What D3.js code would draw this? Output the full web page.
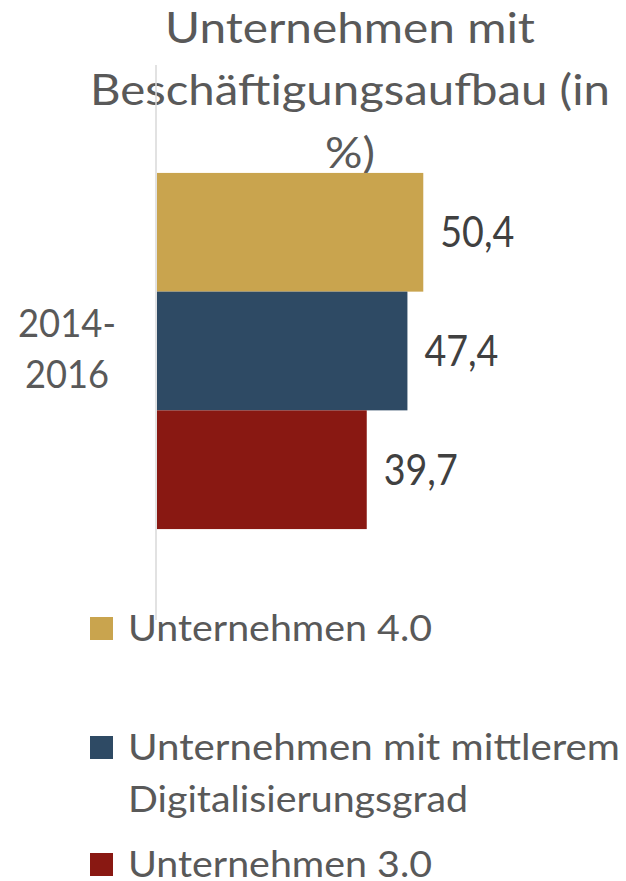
<!DOCTYPE html>
<html>
<head>
<meta charset="utf-8">
<script src="https://cdn.jsdelivr.net/npm/d3@7"></script>
<style>
  body { margin: 0; background: #fff; }
  text { font-family: Lato, "Open Sans", sans-serif; }
</style>
</head>
<body>
<div class="chart"></div>
<script>
// horizontal grouped bar, one period, three company groups

var w = 626, h = 881;

var categories = ['2014-2016'];
var series = ['Unternehmen 4.0', 'Unternehmen mit mittlerem Digitalisierungsgrad', 'Unternehmen 3.0'];
var values = [50.4, 47.4, 39.7];
var colors = ['#C9A44E', '#2E4A64', '#891812'];

var titleLines = ['Unternehmen mit', 'Beschäftigungsaufbau (in', '%)'];
var categoryLines = ['2014-', '2016'];
var legendLines = [['Unternehmen 4.0'], ['Unternehmen mit mittlerem', 'Digitalisierungsgrad'], ['Unternehmen 3.0']];

var fmt = function(v) { return d3.format('.1f')(v).replace('.', ','); };

// squeeze text to the width it has in the reference
function fit(sel, width) {
	sel.each(function() {
		var len = this.getComputedTextLength();
		if (Math.abs(len - width) > 2) {
			d3.select(this).attr('textLength', width).attr('lengthAdjust', 'spacingAndGlyphs');
		}
	});
}

var svg = d3.select('.chart').append('svg')
			.attr('width', w)
			.attr('height', h)
			.style('background-color', '#fff');

// scales
var x = d3.scaleLinear().domain([0, 60]).range([157, 474]);
var y0 = d3.scaleBand().domain(categories).range([65, 637]).paddingOuter(0.303);
var y1 = d3.scaleBand().domain(series).range([0, y0.bandwidth()]);

// title
var titleW = [370, 520, 50];
var titleY = [43, 105, 168];
titleLines.forEach(function(t, i) {
	svg.append('text')
		.attr('x', 350)
		.attr('y', titleY[i])
		.attr('text-anchor', 'middle')
		.attr('font-size', 42)
		.attr('fill', '#595959')
		.text(t)
		.call(fit, titleW[i]);
});

// vertical axis line
svg.append('line')
	.attr('x1', 156).attr('x2', 156)
	.attr('y1', 65).attr('y2', 620)
	.attr('stroke', '#D9D9D9')
	.attr('stroke-width', 1.5);

var g = svg.selectAll('g.cat')
			.data(categories)
		.enter().append('g')
			.attr('class', 'cat')
			.attr('transform', function(d) { return 'translate(0,' + y0(d) + ')'; });

g.selectAll('rect')
	.data(values)
	.enter().append('rect')
		.attr('x', x(0))
		.attr('y', function(d, i) { return y1(series[i]); })
		.attr('width', function(d) { return x(d) - x(0); })
		.attr('height', y1.bandwidth())
		.attr('fill', function(d, i) { return colors[i]; });

g.selectAll('text.val')
	.data(values)
	.enter().append('text')
		.attr('class', 'val')
		.attr('x', function(d) { return x(d) + 17; })
		.attr('y', function(d, i) { return y1(series[i]) + y1.bandwidth() / 2 + 15; })
		.attr('font-size', 42)
		.attr('fill', '#404040')
		.text(fmt)
		.call(fit, 74);

// category label
var catW = [98, 84];
categoryLines.forEach(function(t, i) {
	svg.append('text')
		.attr('x', 67)
		.attr('y', y0(categories[0]) + y0.bandwidth() / 2 - 14 + i * 51)
		.attr('text-anchor', 'middle')
		.attr('font-size', 38)
		.attr('fill', '#595959')
		.text(t)
		.call(fit, catW[i]);
});

// legend
var legendY = [641, 760, 877];
var legendW = [[304], [492, 340], [304]];
legendLines.forEach(function(lines, i) {
	svg.append('rect')
		.attr('x', 90)
		.attr('y', legendY[i] - 24)
		.attr('width', 23)
		.attr('height', 23)
		.attr('fill', colors[i]);
	lines.forEach(function(t, j) {
		svg.append('text')
			.attr('x', 128)
			.attr('y', legendY[i] + j * 52)
			.attr('font-size', 36)
			.attr('fill', '#595959')
			.text(t)
			.call(fit, legendW[i][j]);
	});
});
</script>
</body>
</html>
